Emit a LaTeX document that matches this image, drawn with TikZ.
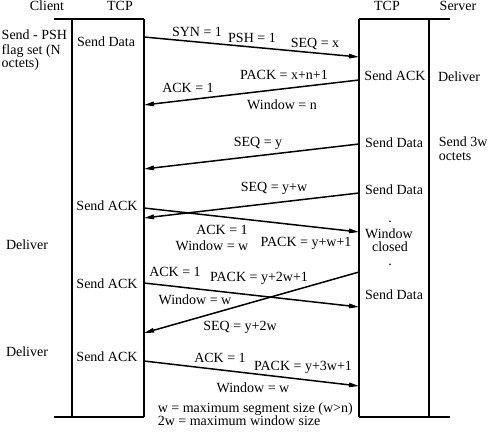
\documentclass[tikz,border=0pt]{standalone}
\usepackage{fontspec}
\setmainfont{Liberation Serif}
\usetikzlibrary{arrows.meta}

\begin{document}
\begin{tikzpicture}[x=1pt, y=-1pt, font=\fontsize{14}{15}\selectfont, line width=1.5pt,
		msg/.style={-{Triangle[length=10pt, width=4.5pt]}},
		lbl/.style={inner sep=0pt},
		note/.style={inner sep=0pt, anchor=base west}]
		\useasboundingbox (0,0) rectangle (488,432);
		% client side: application line and TCP box
		\draw (54,19) -- (144,19);
		\draw (54,417) -- (144,417);
		\draw (72,19) -- (72,417);
		\draw (144,19) -- (144,417);
		% server side: TCP box and application line
		\draw (359,19) -- (450,19);
		\draw (359,417) -- (450,417);
		\draw (359,19) -- (359,417);
		\draw (429,19) -- (429,417);
		% column heads
		\foreach \x/\t [count=\i] in {47/Client, 120/TCP, 387/TCP, 458/Server}
			\node[lbl] (head\i) at (\x,6) {\t};
		% events on the lifelines
		\foreach \x/\y/\t [count=\i] in {106/42/Send Data, 107/206/Send ACK, 107/284/Send ACK, 107/357/Send ACK,
				27/245/Deliver, 27/352/Deliver,
				395/76/Send ACK, 394/143/Send Data, 394/190/Send Data, 394/295/Send Data,
				389/234/Window, 390/247/closed, 390/222/., 390/265/.,
				459/77/Deliver}
			\node[lbl] (ev\i) at (\x,\y) {\t};
		\foreach \y/\t [count=\i] in {39/Send - PSH, 54/flag set (N, 67/octets)}
			\node[note] (app\i) at (1,\y) {\t};
		\node[note] (srv1) at (438,146) {Send 3w};
		\node[note] (srv2) at (438,160) {octets};
		% segments, from one TCP box to the other
		\foreach \n/\xa/\ya/\xb/\yb in {1/144/37/359/57, 2/359/80/144/105, 3/359/144/144/169, 4/359/193/144/218,
				5/144/208/359/232, 6/144/283/359/307, 7/359/272/144/333, 8/144/361/359/386} {
			\coordinate (m\n a) at (\xa,\ya);
			\coordinate (m\n b) at (\xb,\yb);
			\draw[msg] (m\n a) -- (m\n b);
		}
		% segment fields
		\foreach \x/\y/\t [count=\i] in {197/32/SYN = 1, 252/38/PSH = 1, 315/44/SEQ = x,
				188/88/ACK = 1, 284/75/PACK = x+n+1, 282/105/Window = n,
				258/143/SEQ = y, 274/188/SEQ = y+w,
				222/230/ACK = 1, 212/246/Window = w, 306/243/PACK = y+w+1,
				175/272/ACK = 1, 259/278/PACK = y+2w+1, 195/300/Window = w,
				240/327/SEQ = y+2w,
				220/358/ACK = 1, 303/367/PACK = y+3w+1, 253/388/Window = w}
			\node[lbl] (fld\i) at (\x,\y) {\t};
		% legend
		\node[note] (key1) at (157,412) {w = maximum segment size (w>n)};
		\node[note] (key2) at (157,425) {2w = maximum window size};
	\end{tikzpicture}
\end{document}
